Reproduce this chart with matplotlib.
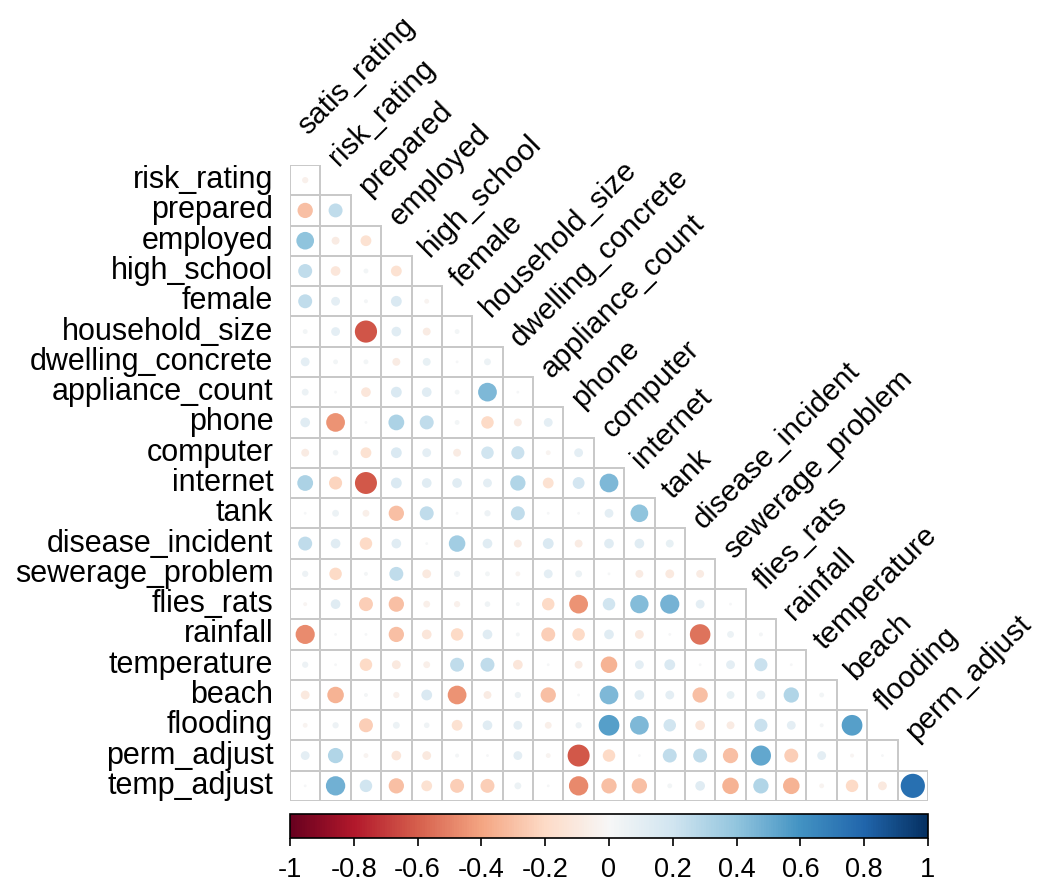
import numpy as np
import matplotlib.pyplot as plt
from matplotlib.patches import Circle, Rectangle
from matplotlib.cm import ScalarMappable
from matplotlib.colors import Normalize

# column / row names
col_names = ["satis_rating", "risk_rating", "prepared", "employed", "high_school",
             "female", "household_size", "dwelling_concrete", "appliance_count",
             "phone", "computer", "internet", "tank", "disease_incident",
             "sewerage_problem", "flies_rats", "rainfall", "temperature", "beach",
             "flooding", "perm_adjust"]
row_names = col_names[1:] + ["temp_adjust"]

# lower-triangle correlations, one list per row
risk_rating = [-0.05]
prepared = [-0.3, 0.25]
employed = [0.4, -0.08, -0.15]
high_school = [0.25, -0.12, 0.03, -0.15]
female = [0.25, 0.1, 0.02, 0.15, -0.03]
household_size = [0.03, 0.1, -0.63, 0.12, -0.08, 0.03]
dwelling_concrete = [0.1, 0.03, 0.03, -0.08, 0.08, 0.01, 0.06]
appliance_count = [0.06, 0.01, -0.12, 0.15, 0.12, 0.03, 0.45, 0.01]
phone = [0.12, -0.45, 0.01, 0.32, 0.25, 0.03, -0.2, -0.08, 0.1]
computer = [-0.08, 0.04, -0.15, 0.15, 0.1, -0.08, 0.2, 0.22, -0.03, 0.1]
internet = [0.32, -0.22, -0.62, 0.15, 0.12, 0.12, 0.1, 0.3, -0.15, 0.18, 0.45]
tank = [0.01, 0.06, -0.06, -0.3, 0.25, 0.01, 0.05, 0.25, 0.01, 0.01, 0.1, 0.4]
disease_incident = [0.25, 0.12, -0.2, 0.12, 0.01, 0.35, 0.12, -0.08, 0.15, -0.08,
                    0.12, 0.12, 0.08]
sewerage_problem = [0.05, -0.2, 0.02, 0.25, -0.1, 0.05, 0.03, -0.03, 0.1, 0.06,
                    0.01, -0.08, -0.1, -0.08]
flies_rats = [-0.02, 0.12, -0.25, -0.3, -0.06, -0.05, 0.04, 0.02, -0.2, -0.45,
              0.2, 0.43, 0.47, 0.1, 0.01]
rainfall = [-0.47, 0.01, 0.01, -0.3, -0.12, -0.2, 0.12, 0.02, -0.25, -0.2,
            0.12, -0.1, 0.01, -0.54, 0.06, 0.02]
temperature = [0.05, 0.01, -0.2, -0.1, -0.06, 0.25, 0.25, -0.12, 0.01, -0.08,
               -0.35, 0.1, 0.15, 0.01, 0.1, 0.22, 0.01]
beach = [-0.1, -0.35, 0.02, -0.05, 0.15, -0.45, -0.08, 0.05, -0.3, 0.01,
         0.45, 0.12, 0.1, -0.3, 0.08, 0.1, 0.3, 0.03]
flooding = [-0.03, 0.05, -0.25, 0.06, 0.04, -0.15, 0.12, 0.1, -0.06, 0.05,
            0.55, 0.45, 0.2, -0.12, -0.08, 0.22, 0.1, 0.02, 0.55]
perm_adjust = [0.1, 0.3, -0.03, -0.12, -0.1, 0.02, 0.01, 0.1, -0.03, -0.62,
               -0.2, 0.01, 0.25, 0.25, -0.3, 0.52, -0.25, 0.1, -0.02, 0.01]
temp_adjust = [0.01, 0.48, 0.2, -0.3, -0.15, -0.25, -0.25, 0.06, 0.01, -0.48,
               -0.3, -0.3, 0.03, 0.12, -0.35, 0.3, -0.35, -0.03, -0.2, -0.1, 0.75]

rows = [risk_rating, prepared, employed, high_school, female, household_size,
        dwelling_concrete, appliance_count, phone, computer, internet, tank,
        disease_incident, sewerage_problem, flies_rats, rainfall, temperature,
        beach, flooding, perm_adjust, temp_adjust]

cbar_ticks = [-1, -0.8, -0.6, -0.4, -0.2, 0, 0.2, 0.4, 0.6, 0.8, 1]
cbar_labels = ["-1", "-0.8", "-0.6", "-0.4", "-0.2", "0", "0.2", "0.4", "0.6", "0.8", "1"]

plt.rcParams["font.family"] = ["Liberation Sans", "DejaVu Sans"]
cmap = plt.get_cmap("RdBu")
norm = Normalize(-1, 1)

fig = plt.figure(figsize=(10.4, 8.84), dpi=100)
W, H = 1040, 884
ax = fig.add_axes([290 / W, (H - 801) / H, 638 / W, 636 / H])
ax.set_xlim(-0.5, 20.5)
ax.set_ylim(-20.5, 0.5)
ax.axis("off")

for i, vals in enumerate(rows):
    for j, v in enumerate(vals):
        ax.add_patch(Rectangle((j - 0.5, -i - 0.5), 1, 1, fill=False,
                               edgecolor="#c8c8c8", lw=1.4, zorder=1))
        ax.add_patch(Circle((j, -i), 0.46 * np.sqrt(abs(v)),
                            facecolor=cmap(norm(v)), edgecolor="none", zorder=2))
    ax.text(-1.05, -i, row_names[i], ha="right", va="center", fontsize=22,
            clip_on=False)

# column names, 45 degrees, starting above each column's first cell
for j, name in enumerate(col_names):
    ax.text(j + 0.1, -j + 0.5 + 0.95, name, rotation=45, rotation_mode="anchor",
            ha="left", va="baseline", fontsize=21.5, clip_on=False)

# colour legend
cax = fig.add_axes([290 / W, (H - 838) / H, 638 / W, 24 / H])
sm = ScalarMappable(norm=norm, cmap=cmap)
cb = fig.colorbar(sm, cax=cax, orientation="horizontal")
cb.set_ticks(cbar_ticks)
cb.set_ticklabels(cbar_labels)
cb.outline.set_linewidth(1.2)
cax.tick_params(length=6, width=1.2, labelsize=19.5, pad=8)

fig.savefig("out.png", dpi=100)
